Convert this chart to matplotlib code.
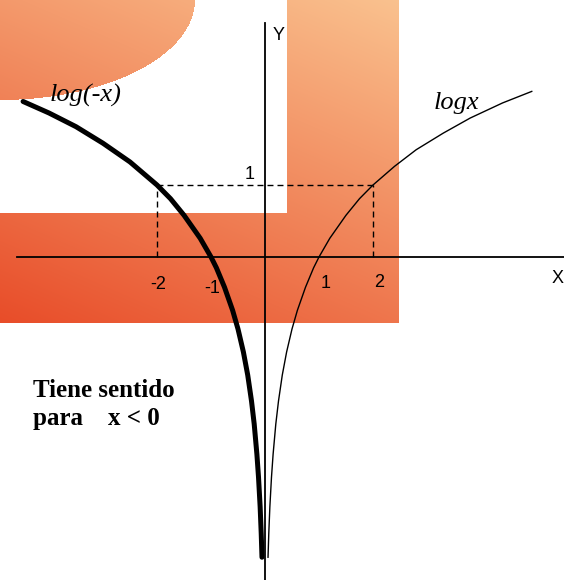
import numpy as np
import matplotlib
matplotlib.use('Agg')
import matplotlib.pyplot as plt

# points (x, y)
x_pos = [0.056, 0.07, 0.09, 0.12, 0.15, 0.2, 0.25, 0.32, 0.4, 0.5, 0.6, 0.75,
         0.9, 1.0, 1.2, 1.5, 1.75, 2.0, 2.4, 2.8, 3.3, 3.8, 4.4, 4.94]
y_pos = [-4.17, -3.84, -3.47, -3.06, -2.74, -2.32, -2.0, -1.64, -1.32, -1.0, -0.74, -0.42,
         -0.15, 0.0, 0.26, 0.58, 0.81, 1.0, 1.26, 1.49, 1.72, 1.93, 2.14, 2.30]
x_neg = [-4.48, -4.0, -3.5, -3.0, -2.5, -2.0, -1.75, -1.5, -1.2, -1.0, -0.9, -0.75,
         -0.6, -0.5, -0.4, -0.32, -0.25, -0.2, -0.15, -0.12, -0.09, -0.07, -0.056]
y_neg = [2.16, 2.0, 1.81, 1.58, 1.32, 1.0, 0.81, 0.58, 0.26, 0.0, -0.15, -0.42,
         -0.74, -1.0, -1.32, -1.64, -2.0, -2.32, -2.74, -3.06, -3.47, -3.84, -4.17]

# marked points and axis labels
ref_x = [-2, 2]
ref_y = 1
xtick_vals = [-2, -1, 1, 2]
xtick_labels = ['-2', '-1', '1', '2']

W, H = 564, 580
fig = plt.figure(figsize=(W / 100, H / 100), dpi=100)

# ── background watermark ────────────────────────────────────────
bg = fig.add_axes([0, 0, 1, 1])
bg.set_xlim(0, W)
bg.set_ylim(H, 0)
bg.axis('off')
yy, xx = np.mgrid[0:H, 0:W] + 0.5
mask = ((xx / 195.0) ** 2 + (yy / 100.0) ** 2 <= 1)
mask |= (xx <= 399) & (yy >= 213) & (yy <= 323)
mask |= (xx >= 287) & (xx <= 399) & (yy <= 323)
t = np.clip(0.35 * xx / 400 + 0.65 * (323 - yy) / 323, 0, 1)
dark = np.array([0.91, 0.30, 0.16])
light = np.array([0.98, 0.76, 0.56])
img = np.ones((H, W, 4))
img[..., :3] = dark * (1 - t[..., None]) + light * t[..., None]
img[..., 3] = mask.astype(float)
bg.imshow(img, extent=(0, W, H, 0), interpolation='nearest', aspect='auto')

# ── graph ───────────────────────────────────────────────────────
x0, y0, ux, uy = 265, 257, 54.0, 72.0
ax = fig.add_axes([0, 0, 1, 1])
ax.patch.set_alpha(0)
ax.set_xlim(-x0 / ux, (W - x0) / ux)
ax.set_ylim(-(H - y0) / uy, y0 / uy)
ax.axis('off')

ax.plot([-4.6, 5.53], [0, 0], color='black', lw=1.3)
ax.plot([0, 0], [-4.6, 3.25], color='black', lw=1.3)

dash = (0, (4.3, 2.9))
ax.plot([ref_x[0], ref_x[1]], [ref_y, ref_y], color='black', lw=1.0, linestyle=dash)
for xv in ref_x:
    ax.plot([xv, xv], [0, ref_y], color='black', lw=1.0, linestyle=dash)

ax.plot(x_neg, y_neg, color='black', lw=3.6, solid_capstyle='round')
ax.plot(x_pos, y_pos, color='black', lw=1.0)

lab = dict(fontsize=13, family='Liberation Sans', ha='center', va='center',
           textcoords='offset pixels')
offsets = {-2: (1, -27), -1: (1, -31), 1: (7, -26), 2: (6, -25)}
for v, s in zip(xtick_vals, xtick_labels):
    ax.annotate(s, (v, 0), xytext=offsets[v], **lab)
ax.annotate('1', (0, 1), xytext=(-15, 11), **lab)
ax.annotate('X', (0, 0), xytext=(293, -21), **lab)
ax.annotate('Y', (0, 0), xytext=(14, 221), **lab)

ax.annotate('log(-x)', (-4.48, 2.16), xytext=(62, 6), textcoords='offset pixels',
            fontsize=19, family='Liberation Serif', style='italic',
            ha='center', va='center')
ax.annotate('logx', (4.94, 2.30), xytext=(-75, -12), textcoords='offset pixels',
            fontsize=19, family='Liberation Serif', style='italic',
            ha='center', va='center')

fig.text(33 / W, 1 - 397 / H, 'Tiene sentido', fontsize=18,
         family='Liberation Serif', weight='bold', ha='left', va='baseline')
fig.text(33 / W, 1 - 425 / H, 'para    x < 0', fontsize=18,
         family='Liberation Serif', weight='bold', ha='left', va='baseline')

plt.savefig('out.png', dpi=100)
